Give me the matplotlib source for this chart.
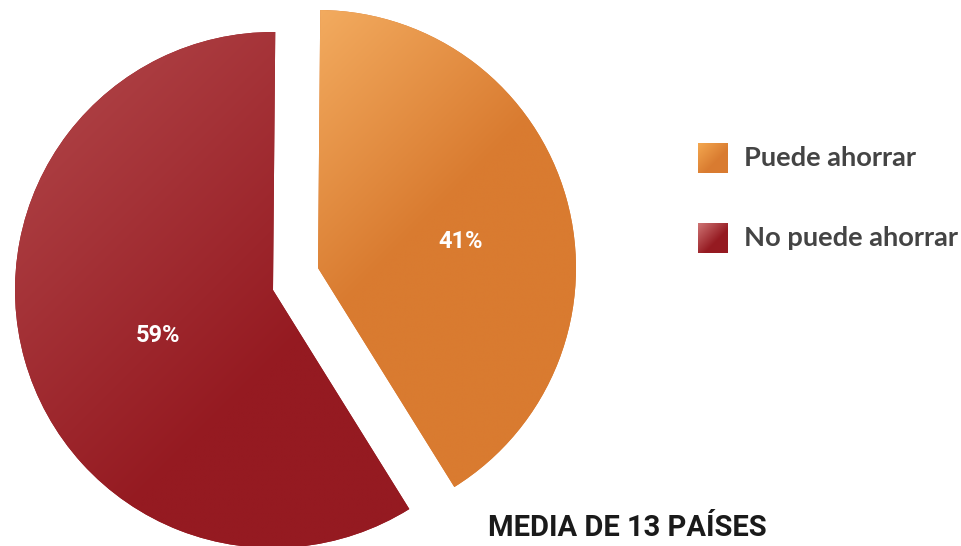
import numpy as np
import matplotlib
matplotlib.use('Agg')
import matplotlib.pyplot as plt
from matplotlib.colors import LinearSegmentedColormap

# data
labels = ['Puede ahorrar', 'No puede ahorrar']
values = [41, 59]
pct_labels = ['41%', '59%']
title = 'MEDIA DE 13 PAÍSES'

light = ['#F3AC60', '#B3494C']
dark = ['#D97B30', '#951A21']
fade = [230, 420]   # px over which the gradient fades into the base colour
sq_light = ['#F4A850', '#CF7575']

W, H = 962, 546
fig = plt.figure(figsize=(W / 100, H / 100), dpi=100)
ax = fig.add_axes([0, 0, 1, 1])

R = 258
red_c = (273, H - 290)
orange_c = (318, H - 268)

wedges, _ = ax.pie(values, colors=dark, startangle=89.5, counterclock=False,
                   radius=R, center=red_c)
wedges[0].set_center(orange_c)
ax.set_xlim(0, W)
ax.set_ylim(0, H)
ax.set_aspect('equal')
ax.axis('off')


def gradient_fill(patch, c_light, c_dark, length, x0, y0, x1, y1, z=2):
    cmap = LinearSegmentedColormap.from_list('g', [c_light, c_dark])
    xs = np.linspace(x0, x1, 300)
    ys = np.linspace(y1, y0, 300)
    X, Y = np.meshgrid(xs, ys)
    # distance along the top-left -> bottom-right diagonal
    t = ((X - x0) + (y1 - Y)) / np.sqrt(2)
    t = np.clip(t / length, 0, 1)
    im = ax.imshow(t, cmap=cmap, vmin=0, vmax=1, extent=(x0, x1, y0, y1),
                   origin='upper', zorder=z, interpolation='bilinear')
    im.set_clip_path(patch)
    return im


for i, w in enumerate(wedges):
    cx, cy = w.center
    x0, x1 = cx - R, cx + R
    y0, y1 = cy - R, cy + R
    if i == 0:
        x0 = cx - 5
    gradient_fill(w, light[i], dark[i], fade[i], x0, y0, x1, y1)
    ax.set_xlim(0, W)
    ax.set_ylim(0, H)

# percentage labels
ax.text(461, H - 241, pct_labels[0], color='white', fontsize=17,
        family='Roboto', fontweight='bold', ha='center', va='center', zorder=5)
ax.text(158, H - 336, pct_labels[1], color='white', fontsize=17,
        family='Roboto', fontweight='bold', ha='center', va='center', zorder=5)

# legend
leg_y = [158, 238]
for i, lab in enumerate(labels):
    sq = plt.Rectangle((698, H - leg_y[i] - 15), 30, 30, facecolor=dark[i],
                       edgecolor='none', zorder=3)
    ax.add_patch(sq)
    gradient_fill(sq, sq_light[i], dark[i], 26, 698, H - leg_y[i] - 15,
                  728, H - leg_y[i] + 15, z=4)
    ax.text(744, H - leg_y[i], lab, color='#444444', fontsize=19.6,
            family='Lato', fontweight='bold', ha='left', va='center', zorder=5)

ax.text(488, H - 528, title, color='#1a1a1a', fontsize=21, family='Roboto',
        fontweight='bold', ha='left', va='center', zorder=5)

ax.set_xlim(0, W)
ax.set_ylim(0, H)
fig.savefig('out.png', dpi=100)
